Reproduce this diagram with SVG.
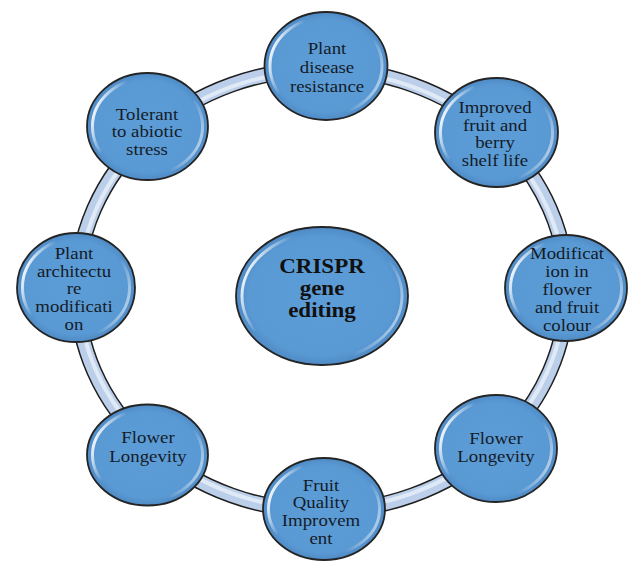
<svg xmlns="http://www.w3.org/2000/svg" width="629" height="563" viewBox="0 0 629 563">
<defs>
<style>
.bub{fill:url(#bubFill);stroke:#242424;stroke-width:1.8}
.hl{fill:none;stroke:url(#hlGrad);stroke-width:3;filter:url(#soft)}
.t{font-family:"Liberation Serif","Times New Roman",serif;font-size:16.5px;fill:#141b28;text-anchor:middle}
.tc{font-family:"Liberation Serif","Times New Roman",serif;font-size:20px;font-weight:bold;fill:#111;text-anchor:middle}
</style>
<radialGradient id="bubFill" cx="0.5" cy="0.5" r="0.5">
<stop offset="0" stop-color="#5d9dd7"/>
<stop offset="0.85" stop-color="#5a9ad4"/>
<stop offset="1" stop-color="#4f8bc6"/>
</radialGradient>
<linearGradient id="hlGrad" x1="0" y1="0.35" x2="1" y2="0.65">
<stop offset="0" stop-color="#ffffff" stop-opacity="0.95"/>
<stop offset="0.2" stop-color="#ffffff" stop-opacity="0"/>
<stop offset="0.8" stop-color="#ffffff" stop-opacity="0"/>
<stop offset="1" stop-color="#ffffff" stop-opacity="0.55"/>
</linearGradient>
<filter id="soft" x="-10%" y="-10%" width="120%" height="120%">
<feGaussianBlur stdDeviation="0.7"/>
</filter>
</defs>
<rect width="629" height="563" fill="#ffffff"/>
<g id="connectors">
<ellipse cx="322" cy="290" rx="245" ry="221" fill="none" stroke="#1e1e1e" stroke-width="16"/>
<ellipse cx="322" cy="290" rx="245" ry="221" fill="none" stroke="#bccfea" stroke-width="13"/>
<ellipse cx="322" cy="290" rx="243" ry="219" fill="none" stroke="#e6eff9" stroke-width="4" stroke-opacity="0.85"/>
</g>
<g id="center">
<ellipse class="bub" cx="322" cy="296" rx="86" ry="69"/>
<ellipse class="hl" cx="322" cy="296" rx="80" ry="63"/>
<g transform="translate(322 0) scale(1.15 1)">
<text class="tc" x="0" y="273">CRISPR</text>
<text class="tc" x="0" y="295">gene</text>
<text class="tc" x="0" y="317">editing</text>
</g>
</g>
<g id="n1">
<ellipse class="bub" cx="326" cy="66" rx="61.5" ry="54"/>
<ellipse class="hl" cx="326" cy="66" rx="56" ry="48.5"/>
<g transform="translate(327 0) scale(1.14 1)">
<text class="t" x="0" y="54">Plant</text>
<text class="t" x="0" y="73">disease</text>
<text class="t" x="0" y="92">resistance</text>
</g>
</g>
<g id="n2">
<ellipse class="bub" cx="496.5" cy="132.5" rx="61.5" ry="54.5"/>
<ellipse class="hl" cx="496.5" cy="132.5" rx="56" ry="49"/>
<g transform="translate(495 0) scale(1.14 1)">
<text class="t" x="0" y="113">Improved</text>
<text class="t" x="0" y="131">fruit and</text>
<text class="t" x="0" y="148">berry</text>
<text class="t" x="0" y="166">shelf life</text>
</g>
</g>
<g id="n3">
<ellipse class="bub" cx="566" cy="288" rx="61" ry="53"/>
<ellipse class="hl" cx="566" cy="288" rx="55.5" ry="47.5"/>
<g transform="translate(567 0) scale(1.14 1)">
<text class="t" x="0" y="259">Modificat</text>
<text class="t" x="0" y="277">ion in</text>
<text class="t" x="0" y="295">flower</text>
<text class="t" x="0" y="313">and fruit</text>
<text class="t" x="0" y="331">colour</text>
</g>
</g>
<g id="n4">
<ellipse class="bub" cx="496" cy="448.5" rx="61" ry="53.5"/>
<ellipse class="hl" cx="496" cy="448.5" rx="55.5" ry="48"/>
<g transform="translate(496 0) scale(1.14 1)">
<text class="t" x="0" y="444">Flower</text>
<text class="t" x="0" y="462">Longevity</text>
</g>
</g>
<g id="n5">
<ellipse class="bub" cx="324" cy="509" rx="61" ry="51"/>
<ellipse class="hl" cx="324" cy="509" rx="55.5" ry="45.5"/>
<g transform="translate(321 0) scale(1.14 1)">
<text class="t" x="0" y="491">Fruit</text>
<text class="t" x="0" y="508">Quality</text>
<text class="t" x="0" y="526">Improvem</text>
<text class="t" x="0" y="544">ent</text>
</g>
</g>
<g id="n6">
<ellipse class="bub" cx="147.5" cy="455" rx="60.5" ry="50.5"/>
<ellipse class="hl" cx="147.5" cy="455" rx="55" ry="45"/>
<g transform="translate(148 0) scale(1.14 1)">
<text class="t" x="0" y="443">Flower</text>
<text class="t" x="0" y="462">Longevity</text>
</g>
</g>
<g id="n7">
<ellipse class="bub" cx="76" cy="287.5" rx="59" ry="54.5"/>
<ellipse class="hl" cx="76" cy="287.5" rx="53.5" ry="49"/>
<g transform="translate(74 0) scale(1.14 1)">
<text class="t" x="0" y="259">Plant</text>
<text class="t" x="0" y="277">architectu</text>
<text class="t" x="0" y="294">re</text>
<text class="t" x="0" y="312">modificati</text>
<text class="t" x="0" y="330">on</text>
</g>
</g>
<g id="n8">
<ellipse class="bub" cx="147.5" cy="126.5" rx="60.5" ry="53.5"/>
<ellipse class="hl" cx="147.5" cy="126.5" rx="55" ry="48"/>
<g transform="translate(147 0) scale(1.14 1)">
<text class="t" x="0" y="120">Tolerant</text>
<text class="t" x="0" y="137">to abiotic</text>
<text class="t" x="0" y="155">stress</text>
</g>
</g>
</svg>
